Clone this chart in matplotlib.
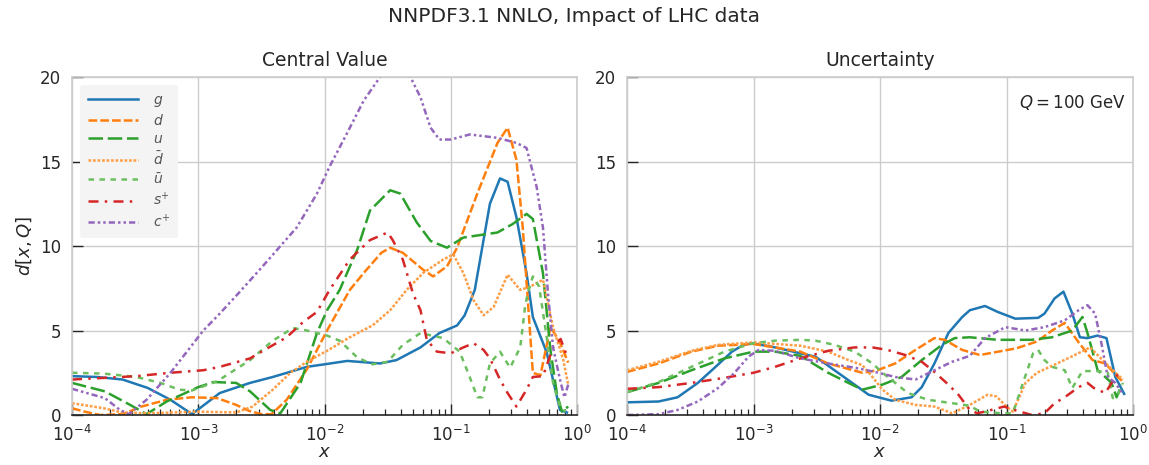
import matplotlib
matplotlib.use("Agg")
import matplotlib.pyplot as plt
import numpy as np

plt.rcParams["font.family"] = ["DejaVu Sans"]
plt.rcParams["mathtext.fontset"] = "dejavusans"

# Curves are stored as log10(x) and distance d[x, Q].
# ---- Central value panel ----
g_cv_lx = [-4.0, -3.8, -3.6, -3.4, -3.22, -3.05, -2.83, -2.59, -2.41, -2.14, -2.0,
           -1.82, -1.56, -1.43, -1.24, -1.09, -0.95, -0.89, -0.81, -0.69, -0.61,
           -0.55, -0.48, -0.40, -0.35, -0.24, -0.135, -0.08]
g_cv = [2.3, 2.25, 2.1, 1.6, 0.9, 0.05, 1.3, 1.9, 2.25, 2.85, 3.0,
        3.2, 3.05, 3.25, 4.0, 4.85, 5.3, 5.9, 7.4, 12.5, 14.0,
        13.8, 11.7, 8.4, 5.8, 3.7, 0.3, 0.15]

d_cv_lx = [-4.0, -3.9, -3.78, -3.6, -3.45, -3.25, -3.05, -2.85, -2.7, -2.6, -2.5,
           -2.42, -2.3, -2.14, -1.98, -1.8, -1.69, -1.55, -1.48, -1.38, -1.22,
           -1.14, -1.03, -0.95, -0.79, -0.63, -0.55, -0.48, -0.43, -0.35, -0.29,
           -0.21, -0.135, -0.07]
d_cv = [0.4, 0.2, 0.0, 0.05, 0.5, 0.9, 1.05, 1.0, 0.6, 0.25, 0.05,
        0.05, 0.9, 2.7, 5.0, 7.4, 8.4, 9.6, 9.9, 9.6, 8.6,
        8.2, 8.8, 9.9, 13.1, 16.1, 17.0, 15.1, 11.1, 2.5, 2.35,
        5.2, 4.3, 3.1]

u_cv_lx = [-4.0, -3.74, -3.54, -3.41, -3.25, -3.0, -2.88, -2.7, -2.59, -2.43, -2.35,
           -2.19, -2.06, -1.98, -1.88, -1.74, -1.64, -1.48, -1.40, -1.27, -1.16,
           -1.03, -0.90, -0.63, -0.51, -0.40, -0.35, -0.27, -0.21, -0.16, -0.12, -0.07]
u_cv = [1.9, 1.4, 0.6, 0.05, 0.8, 1.65, 1.95, 1.9, 1.4, 0.3, 0.1,
        1.9, 4.85, 6.2, 7.4, 9.8, 12.1, 13.3, 13.1, 11.4, 10.3,
        9.9, 10.5, 10.8, 11.3, 11.9, 11.6, 8.4, 3.8, 1.3, 0.2, 0.5]

dbar_cv_lx = [-4.0, -3.75, -3.6, -3.4, -3.0, -2.7, -2.57, -2.41, -2.27, -2.14, -1.98,
              -1.80, -1.62, -1.48, -1.35, -1.22, -1.06, -0.98, -0.90, -0.82, -0.74,
              -0.66, -0.55, -0.45, -0.37, -0.27, -0.19, -0.11, -0.07]
dbar_cv = [0.7, 0.4, 0.15, 0.1, 0.2, 0.15, 0.5, 1.5, 2.5, 3.15, 3.8,
           4.6, 5.3, 6.2, 7.4, 8.4, 9.2, 9.5, 8.4, 6.8, 5.9,
           6.4, 8.3, 7.4, 7.6, 8.0, 5.2, 3.3, 1.8]

ubar_cv_lx = [-4.0, -3.75, -3.49, -3.3, -3.15, -3.05, -2.85, -2.59, -2.41, -2.25, -2.14,
              -1.98, -1.88, -1.74, -1.62, -1.5, -1.38, -1.24, -1.06, -0.93, -0.85,
              -0.79, -0.75, -0.69, -0.61, -0.53, -0.45, -0.41, -0.39, -0.35, -0.30,
              -0.24, -0.19, -0.135, -0.09]
ubar_cv = [2.5, 2.45, 2.25, 1.9, 1.5, 1.45, 2.0, 3.25, 4.4, 5.15, 5.0,
           4.7, 4.4, 3.4, 3.0, 3.15, 4.15, 4.85, 4.55, 3.75, 2.25,
           1.05, 1.05, 3.05, 3.75, 2.8, 4.0, 6.5, 7.2, 8.2, 7.6,
           4.6, 1.9, 0.5, 0.2]

splus_cv_lx = [-4.0, -3.74, -3.49, -3.22, -2.96, -2.83, -2.59, -2.51, -2.30, -2.17, -2.06,
               -1.96, -1.80, -1.64, -1.50, -1.46, -1.38, -1.30, -1.24, -1.19, -1.11,
               -1.0, -0.90, -0.82, -0.74, -0.69, -0.61, -0.55, -0.48, -0.40, -0.35,
               -0.27, -0.19, -0.13, -0.08]
splus_cv = [2.1, 2.2, 2.3, 2.5, 2.65, 2.85, 3.35, 3.7, 4.6, 5.5, 6.1,
            7.4, 9.2, 10.35, 10.8, 10.35, 9.2, 7.2, 6.2, 4.45, 3.75,
            3.65, 4.0, 4.25, 3.85, 3.35, 2.1, 1.3, 0.5, 1.5, 2.25,
            2.3, 4.0, 4.5, 3.5]

cplus_cv_lx = [-4.0, -3.74, -3.62, -3.55, -3.41, -3.22, -3.09, -2.96, -2.83, -2.67, -2.49,
               -2.22, -2.06, -1.96, -1.82, -1.69, -1.56, -1.46, -1.32, -1.24, -1.16,
               -1.09, -1.0, -0.85, -0.63, -0.48, -0.40, -0.32, -0.27, -0.23, -0.19,
               -0.135, -0.10, -0.07]
cplus_cv = [1.55, 1.0, 0.3, 0.05, 0.9, 2.5, 3.75, 5.0, 6.0, 7.3, 8.8,
            11.1, 13.1, 14.7, 16.7, 18.6, 20.0, 21.0, 20.0, 18.8, 17.0,
            16.3, 16.3, 16.6, 16.4, 16.1, 15.8, 13.5, 11.1, 7.2, 4.0,
            2.1, 1.05, 1.8]

# ---- Uncertainty panel ----
g_unc_lx = [-4.0, -3.75, -3.6, -3.44, -3.3, -3.17, -3.08, -3.01, -2.83, -2.63, -2.51,
            -2.36, -2.22, -2.09, -1.91, -1.75, -1.67, -1.57, -1.46, -1.35, -1.29,
            -1.17, -1.07, -0.93, -0.75, -0.70, -0.62, -0.55, -0.48, -0.42, -0.36,
            -0.28, -0.21, -0.14, -0.07]
g_unc = [0.75, 0.8, 1.05, 1.9, 2.85, 3.75, 4.15, 4.25, 4.0, 3.65, 3.45,
         2.65, 1.9, 1.2, 0.85, 1.05, 1.65, 3.05, 4.85, 5.8, 6.2,
         6.45, 6.1, 5.7, 5.75, 6.0, 6.9, 7.3, 6.0, 4.6, 4.55,
         4.7, 4.55, 2.25, 1.25]

d_unc_lx = [-4.0, -3.75, -3.49, -3.28, -3.0, -2.83, -2.63, -2.41, -2.14, -2.02, -1.88,
            -1.72, -1.57, -1.49, -1.35, -1.21, -0.92, -0.76, -0.64, -0.54, -0.43,
            -0.32, -0.22, -0.12, -0.07]
d_unc = [2.55, 3.05, 3.75, 4.1, 4.2, 4.0, 3.75, 3.05, 2.5, 2.65, 3.05,
         3.85, 4.55, 4.45, 3.85, 3.55, 3.95, 4.35, 5.0, 5.45, 4.3,
         3.25, 3.05, 2.25, 1.9]

u_unc_lx = [-4.0, -3.75, -3.49, -3.23, -3.0, -2.83, -2.63, -2.41, -2.25, -2.14, -1.98,
            -1.83, -1.67, -1.51, -1.41, -1.29, -1.07, -0.80, -0.64, -0.48, -0.40,
            -0.36, -0.28, -0.22, -0.17, -0.13, -0.09]
u_unc = [1.35, 1.9, 2.65, 3.35, 3.75, 3.75, 3.5, 2.5, 1.9, 1.5, 1.8,
         2.25, 3.25, 4.15, 4.55, 4.6, 4.45, 4.45, 4.6, 5.0, 5.8,
         4.85, 2.65, 2.25, 1.9, 1.05, 1.8]

dbar_unc_lx = [-4.0, -3.75, -3.49, -3.28, -3.0, -2.63, -2.41, -2.25, -2.14, -2.06, -1.98,
               -1.88, -1.72, -1.57, -1.43, -1.29, -1.15, -1.08, -1.0, -0.95, -0.85,
               -0.76, -0.60, -0.46, -0.34, -0.24, -0.16, -0.08]
dbar_unc = [2.65, 3.15, 3.8, 4.15, 4.3, 4.1, 3.75, 3.25, 2.95, 2.25, 1.5,
            0.9, 0.6, 0.5, 0.1, 0.6, 1.2, 1.1, 0.5, 0.2, 1.9,
            2.5, 3.05, 3.55, 4.0, 3.25, 2.65, 2.1]

ubar_unc_lx = [-4.0, -3.75, -3.49, -3.23, -3.0, -2.83, -2.63, -2.51, -2.36, -2.2, -2.06,
               -1.98, -1.88, -1.78, -1.62, -1.43, -1.29, -1.21, -1.03, -0.95, -0.87,
               -0.79, -0.75, -0.70, -0.64, -0.54, -0.48, -0.40, -0.28, -0.20, -0.16,
               -0.12, -0.08]
ubar_unc = [1.35, 1.95, 2.85, 3.75, 4.25, 4.4, 4.45, 4.4, 4.15, 3.75, 3.05,
            2.5, 1.9, 1.3, 0.9, 0.7, 0.55, 0.2, 0.1, 0.1, 1.9,
            3.65, 3.85, 3.25, 2.85, 2.65, 1.6, 2.6, 2.6, 2.5, 1.0,
            1.2, 1.9]

splus_unc_lx = [-4.0, -3.75, -3.49, -3.23, -3.0, -2.83, -2.63, -2.41, -2.2, -2.06, -1.94,
                -1.80, -1.67, -1.57, -1.46, -1.38, -1.29, -1.23, -1.12, -1.02, -0.94,
                -0.80, -0.70, -0.62, -0.54, -0.43, -0.36, -0.31, -0.22, -0.16, -0.10]
splus_unc = [1.55, 1.65, 1.9, 2.2, 2.5, 2.85, 3.35, 3.8, 4.0, 4.0, 3.85,
             3.55, 3.15, 2.55, 1.8, 1.2, 0.3, 0.1, 0.3, 0.5, 0.3,
             0.0, 0.1, 0.7, 1.05, 1.65, 1.9, 1.6, 1.3, 2.0, 2.6]

cplus_unc_lx = [-4.0, -3.75, -3.6, -3.44, -3.28, -3.15, -3.04, -2.96, -2.83, -2.63, -2.41,
                -2.2, -2.04, -1.88, -1.72, -1.57, -1.43, -1.29, -1.17, -1.01, -0.85,
                -0.70, -0.54, -0.43, -0.36, -0.30, -0.25, -0.20, -0.14, -0.09]
cplus_unc = [0.0, 0.05, 0.3, 0.8, 1.6, 2.5, 3.45, 3.85, 3.8, 3.35, 3.05,
             2.8, 2.55, 2.25, 2.1, 2.65, 3.15, 3.5, 4.55, 5.2, 5.0,
             5.2, 5.6, 6.2, 6.5, 6.0, 4.25, 2.25, 1.9, 1.35]

labels = [r"$g$", r"$d$", r"$u$", r"$\bar{d}$", r"$\bar{u}$", r"$s^{+}$", r"$c^{+}$"]
colors = ["#1f77b4", "#ff7f0e", "#2ca02c", "#fe9e47", "#6bbf5f", "#d62728", "#9467bd"]
styles = ["-", (0, (3.5, 1.2)), (0, (5.8, 1.9)), (0, (1.1, 0.7)), (0, (2.2, 2.2)),
          (0, (4, 2.5, 1, 2.5)), (0, (2.5, 1.2, 1, 1.2, 1, 1.2))]

cv_series = [(g_cv_lx, g_cv), (d_cv_lx, d_cv), (u_cv_lx, u_cv), (dbar_cv_lx, dbar_cv),
             (ubar_cv_lx, ubar_cv), (splus_cv_lx, splus_cv), (cplus_cv_lx, cplus_cv)]
unc_series = [(g_unc_lx, g_unc), (d_unc_lx, d_unc), (u_unc_lx, u_unc),
              (dbar_unc_lx, dbar_unc), (ubar_unc_lx, ubar_unc),
              (splus_unc_lx, splus_unc), (cplus_unc_lx, cplus_unc)]

TEXT = "#262626"

fig = plt.figure(figsize=(11.49, 4.65), dpi=100)
ax_cv = fig.add_axes([0.0627, 0.1075, 0.4395, 0.7269])
ax_unc = fig.add_axes([0.5457, 0.1075, 0.4404, 0.7269])

for ax, series, title in ((ax_cv, cv_series, "Central Value"),
                          (ax_unc, unc_series, "Uncertainty")):
    for (lx, vals), lab, col, ls in zip(series, labels, colors, styles):
        ax.plot(10 ** np.asarray(lx), vals, color=col, linestyle=ls,
                linewidth=1.8, label=lab)
    ax.set_xscale("log")
    ax.set_xlim(1e-4, 1)
    ax.set_ylim(0, 20)
    ax.set_yticks([0, 5, 10, 15, 20])
    ax.grid(True, which="major", color="#cccccc", linewidth=1.0)
    ax.set_axisbelow(True)
    for side in ("left", "top", "right"):
        ax.spines[side].set_color("#cccccc")
        ax.spines[side].set_linewidth(1.2)
    ax.spines["bottom"].set_color(TEXT)
    ax.spines["bottom"].set_linewidth(1.2)
    ax.tick_params(which="major", direction="in", length=8, width=1.0,
                   color=TEXT, labelcolor=TEXT, labelsize=12)
    ax.tick_params(axis="x", which="major", pad=7)
    ax.tick_params(axis="y", which="major", pad=8)
    ax.tick_params(which="minor", direction="in", length=4, width=0.9, color=TEXT)
    ax.tick_params(axis="y", which="minor", left=False)
    ax.set_xlabel(r"$x$", fontsize=13, color=TEXT, labelpad=-1)
    ax.set_title(title, fontsize=13.5, color=TEXT, pad=8)

ax_cv.set_ylabel(r"$d[x,Q]$", fontsize=13, color=TEXT, labelpad=4)

leg = ax_cv.legend(loc="upper left", fontsize=10, handlelength=3.6,
                   frameon=True, borderaxespad=0.6, borderpad=0.55,
                   handletextpad=1.1, labelspacing=0.3)
leg.get_frame().set_facecolor("#f4f4f4")
leg.get_frame().set_edgecolor("none")
leg.get_frame().set_alpha(1.0)
for t in leg.get_texts():
    t.set_color("#555555")

ax_unc.text(0.985, 0.925, r"$Q = 100$ GeV", transform=ax_unc.transAxes,
            ha="right", va="center", fontsize=12, color=TEXT)

fig.suptitle("NNPDF3.1 NNLO, Impact of LHC data", fontsize=14.5, color=TEXT, y=0.985)

fig.savefig("out.png", dpi=100)
